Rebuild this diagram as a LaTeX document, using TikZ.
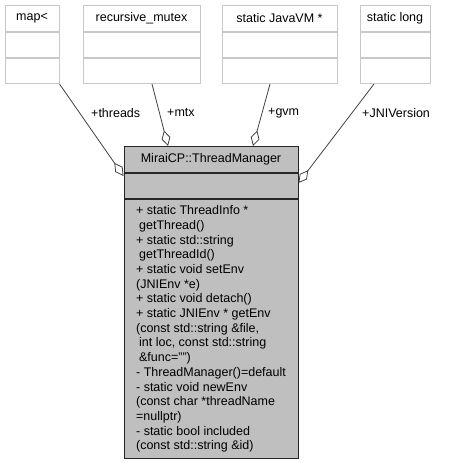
\documentclass[tikz,border=0pt]{standalone}
\usepackage{fontspec}
\setmainfont{Liberation Sans}
\usetikzlibrary{arrows.meta,positioning,calc}
\definecolor{boxgray}{HTML}{BFBFBF}
\definecolor{edgegray}{HTML}{C8C8C8}

\begin{document}
\begin{tikzpicture}[x=1pt,y=-1pt,font=\fontsize{12.5}{14.7}\selectfont,
  hdr/.style={draw=edgegray,line width=1pt,minimum height=26pt,inner sep=0pt,anchor=north},
  cmp/.style={draw=edgegray,line width=1pt,minimum height=25pt,inner sep=0pt},
  cls/.style={draw=black!85,fill=boxgray,line width=1pt,inner sep=0pt,minimum width=174pt},
  aggr/.style={draw=black!75,line width=0.8pt,-{Diamond[open,length=16pt,width=9pt]}},
  lbl/.style={anchor=west,inner sep=0pt}]
\useasboundingbox (0,0) rectangle (449,463);
% member types
\foreach \nm/\cx/\bw/\txt in {map/32/54/map<,mutex/141.5/117/recursive\_mutex,jvm/279.5/115/static JavaVM *,jlong/395/70/static long}{
  \node[hdr,minimum width=\bw pt] (\nm) at (\cx,5) {\txt};
  \node[cmp,minimum width=\bw pt,below=0pt of \nm] (\nm-a) {};
  \node[cmp,minimum width=\bw pt,below=0pt of \nm-a] (\nm-b) {};
}
% the class
\node[cls,minimum height=26pt,anchor=north] (tm) at (211,146) {MiraiCP::ThreadManager};
\node[cls,minimum height=25pt,below=0pt of tm] (tmattr) {};
\node[cls,minimum height=259pt,below=0pt of tmattr,align=left] (tmops) {+ static ThreadInfo *\\
\hspace*{3pt}getThread()\\
+ static std::string\\
\hspace*{3pt}getThreadId()\\
+ static void setEnv\\
(JNIEnv *e)\\
+ static void detach()\\
+ static JNIEnv * getEnv\\
(const std::string \&file,\\
\hspace*{3pt}int loc, const std::string\\
\hspace*{3pt}\&func="")\\
- ThreadManager()=default\\
- static void newEnv\\
(const char *threadName\\
=nullptr)\\
- static bool included\\
(const std::string \&id)};
% aggregations
\draw[aggr] (map-b.south east) -- ($(tmattr.north west)+(0,3)$);
\draw[aggr] ($(mutex-b.south)+(10.5,0)$) -- ($(tm.north)+(-43,0)$);
\draw[aggr] ($(jvm-b.south)+(-9.5,0)$) -- ($(tm.north)+(42,0)$);
\draw[aggr] ($(jlong-b.south)+(-21,0)$) -- ($(tmattr.north east)+(0,10)$);
\node[lbl] (lthreads) at (91,113) {+threads};
\node[lbl] (lmtx) at (167,113) {+mtx};
\node[lbl] (lgvm) at (268,113) {+gvm};
\node[lbl] (lver) at (362,113) {+JNIVersion};
\end{tikzpicture}
\end{document}
